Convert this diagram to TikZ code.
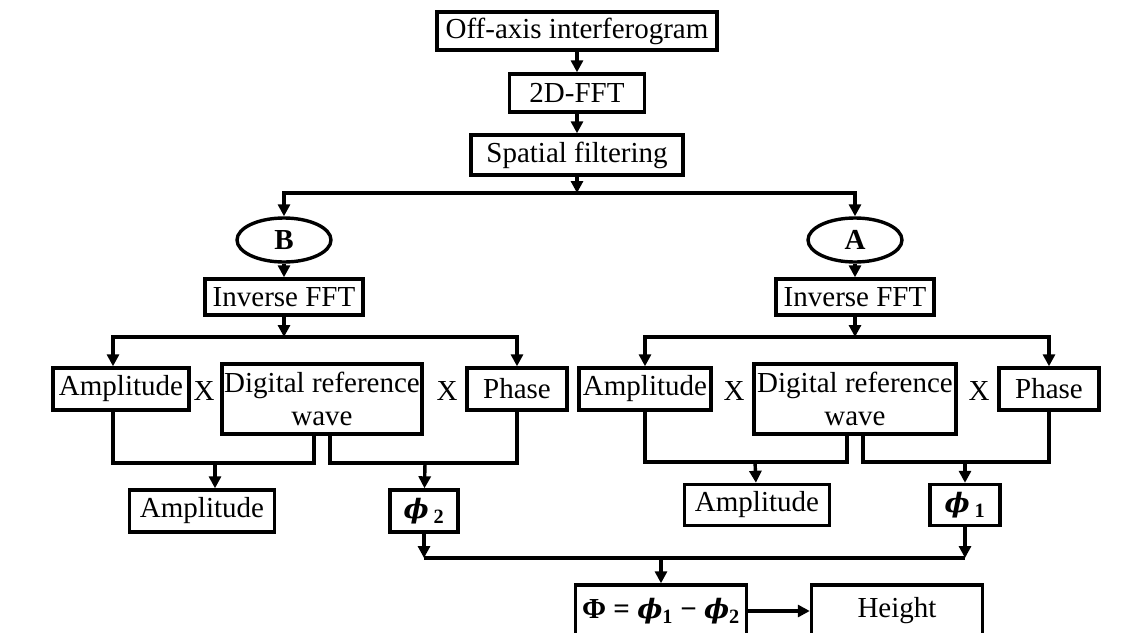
\documentclass[tikz,border=0pt]{standalone}
\usepackage{fontspec}
\setmainfont{Liberation Serif}
\newfontfamily\phifont[Scale=0.92]{DejaVu Serif}
\newcommand{\phisym}{{\phifont\bfseries\itshape ϕ}}
\usetikzlibrary{arrows.meta,shapes.geometric}
\begin{document}
\begin{tikzpicture}[x=1pt, y=-1pt, line width=3.4pt, >={Triangle[length=12pt,width=12pt]},
  box/.style={draw, rectangle, inner sep=0pt, font=\fontsize{29}{33}\selectfont},
  oval/.style={draw, ellipse, inner sep=0pt, minimum width=94, minimum height=44, font=\fontsize{29}{33}\selectfont\bfseries},
  times/.style={inner sep=0pt, font=\fontsize{29}{33}\selectfont}]
\useasboundingbox (0,0) rectangle (1135,632);
\clip (0,0) rectangle (1135,632);
\node[box, minimum width=280, minimum height=38] (off) at (577,31) {Off-axis interferogram};
\node[box, minimum width=135, minimum height=38] (fft) at (577,93) {2D-FFT};
\node[box, minimum width=212, minimum height=40] (spat) at (577,155) {Spatial filtering};
\coordinate (jtop) at (577,193);
\node[oval] (B) at (284,240) {B};
\node[oval] (A) at (855,240) {A};
\node[box, minimum width=158, minimum height=36] (invL) at (284,297) {Inverse FFT};
\node[box, minimum width=158, minimum height=36] (invR) at (855,297) {Inverse FFT};
\coordinate (jL) at (284,337);
\coordinate (jR) at (855,337);
\node[box, minimum width=136, minimum height=42] (ampL) at (121,389) {Amplitude};
\node[times] (xL1) at (204,391) {X};
\node[box, minimum width=200, minimum height=70, align=center] (digL) at (322,399) {Digital reference\\wave};
\node[times] (xL2) at (447,391) {X};
\node[box, minimum width=100, minimum height=42] (phaseL) at (517,389) {Phase};
\coordinate (mL) at (215,463);
\coordinate (pL) at (425,463);
\node[box, minimum width=145, minimum height=42] (amp2L) at (202,511) {Amplitude};
\node[box, minimum width=68, minimum height=42] (phi2) at (424,511) {\phisym\,\textsubscript{\bfseries 2}};
\node[box, minimum width=132, minimum height=42] (ampR) at (645,389) {Amplitude};
\node[times] (xR1) at (734,391) {X};
\node[box, minimum width=202, minimum height=70, align=center] (digR) at (855,399) {Digital reference\\wave};
\node[times] (xR2) at (979,391) {X};
\node[box, minimum width=100, minimum height=42] (phaseR) at (1049,389) {Phase};
\coordinate (mR) at (755,462);
\coordinate (pR) at (965,462);
\node[box, minimum width=145, minimum height=41] (amp2R) at (757,505) {Amplitude};
\node[box, minimum width=70, minimum height=41] (phi1) at (965,505) {\phisym\,\textsubscript{\bfseries 1}};
\coordinate (jbot) at (661,558);
\node[box, minimum width=171, minimum height=52] (Phi) at (661,611) {\bfseries Φ = \phisym\textsubscript{1} − \phisym\textsubscript{2}};
\node[box, minimum width=171, minimum height=52] (height) at (897,611) {Height};
\draw[->] (off) -- (fft);
\draw[->] (fft) -- (spat);
\draw[->] (spat) -- (jtop);
\draw[->] (jtop) -| (B);
\draw[->] (jtop) -| (A);
\draw[->] (B) -- (invL);
\draw[->] (A) -- (invR);
\draw[->] (invL) -- (jL);
\draw[->] (invR) -- (jR);
\draw[->] (jL) -| ([xshift=-8]ampL.north);
\draw[->] (jL) -| (phaseL);
\draw[->] (jR) -| (ampR);
\draw[->] (jR) -| (phaseR);
\draw ([xshift=-8]ampL.south) |- (mL) -| ([xshift=-8]digL.south);
\draw ([xshift=8]digL.south) |- (pL) -| (phaseL);
\draw (ampR) |- (mR) -| ([xshift=-8]digR.south);
\draw ([xshift=8]digR.south) |- (pR) -| (phaseR);
\draw[->] (mL) -- (mL |- amp2L.north);
\draw[->] (pL) -- (phi2);
\draw[->] (mR) -- (amp2R);
\draw[->] (pR) -- (phi1);
\draw[->] (phi2) -- (phi2 |- jbot);
\draw[->] (phi1) -- (phi1 |- jbot);
\draw (phi2 |- jbot) -- (phi1 |- jbot);
\draw[->] (jbot) -- (Phi);
\draw[->] (Phi) -- (height);
\end{tikzpicture}
\end{document}
